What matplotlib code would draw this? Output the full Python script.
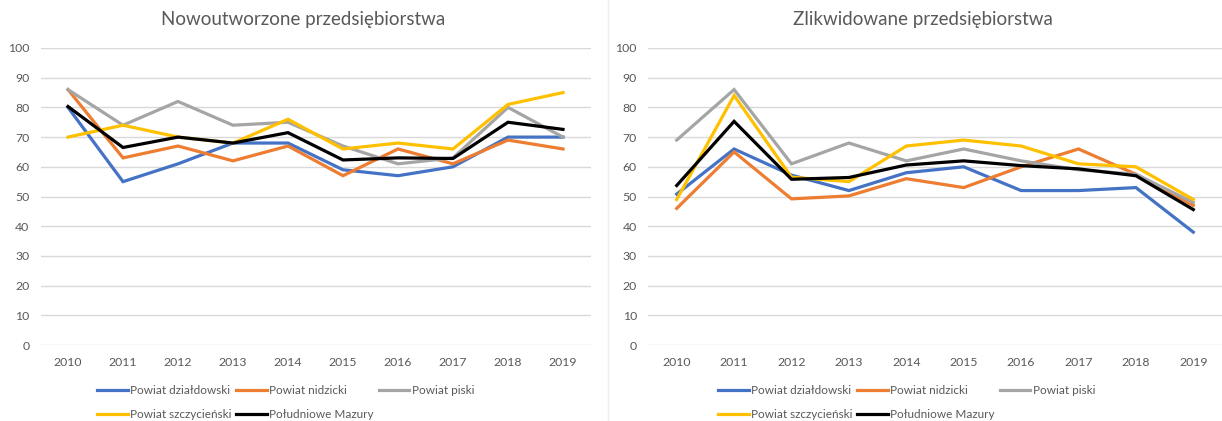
"""
Two Excel-style line charts: new and closed enterprises, 2010-2019.
"""

import matplotlib
matplotlib.use("Agg")
import matplotlib.pyplot as plt
from matplotlib.lines import Line2D

plt.rcParams['font.family'] = ['Lato', 'DejaVu Sans']

years = ['2010', '2011', '2012', '2013', '2014', '2015', '2016', '2017', '2018', '2019']
series_names = ['Powiat działdowski', 'Powiat nidzicki', 'Powiat piski',
                'Powiat szczycieński', 'Południowe Mazury']
colors = ['#4472C4', '#ED7D31', '#A5A5A5', '#FFC000', '#000000']

# Nowoutworzone przedsiębiorstwa
new_dzialdowski = [80, 55, 61, 68, 68, 59, 57, 60, 70, 70]
new_nidzicki = [86, 63, 67, 62, 67, 57, 66, 61, 69, 66]
new_piski = [86, 74, 82, 74, 75, 67, 61, 63, 80, 70]
new_szczycienski = [70, 74, 70, 68, 76, 66, 68, 66, 81, 85]
new_mazury = [80.3, 66.5, 70, 68, 71.5, 62.3, 63, 62.8, 75, 72.6]

# Zlikwidowane przedsiębiorstwa
closed_dzialdowski = [50.8, 66, 57.2, 52, 58, 60, 52, 52, 53, 38]
closed_nidzicki = [46, 65, 49.2, 50.2, 56, 53, 60, 66, 57.5, 47]
closed_piski = [69, 86, 61, 68, 62, 66, 62, 59, 57.5, 48]
closed_szczycienski = [49, 84, 56.5, 55, 67, 69, 67, 61, 60, 49]
closed_mazury = [53.7, 75.3, 55.8, 56.4, 60.6, 62, 60.4, 59.3, 57, 45.6]

new_data = [new_dzialdowski, new_nidzicki, new_piski, new_szczycienski, new_mazury]
closed_data = [closed_dzialdowski, closed_nidzicki, closed_piski, closed_szczycienski, closed_mazury]

W, H = 1222, 421
fig = plt.figure(figsize=(W / 100, H / 100), dpi=100)

ax1 = fig.add_axes([40.5 / W, 76 / H, 550 / W, 297 / H])
ax2 = fig.add_axes([648 / W, 76 / H, 574 / W, 297 / H])

text_color = '#595959'


def style_panel(ax, data, title, title_x, legend_x):
    x = list(range(len(years)))
    handles = []
    for values, name, color in zip(data, series_names, colors):
        line, = ax.plot(x, values, color=color, linewidth=2.3, label=name,
                        solid_joinstyle='miter', zorder=3)
        handles.append(line)

    ax.set_xlim(-0.5, len(years) - 0.5)
    ax.set_ylim(0, 100)
    ax.set_yticks(range(0, 101, 10))
    ax.set_xticks(x)
    ax.set_xticklabels(years)
    ax.tick_params(length=0, labelsize=8.8, labelcolor=text_color, pad=8)
    ax.tick_params(axis='x', pad=9)
    ax.grid(axis='y', color='#D9D9D9', linewidth=1.0, zorder=0)
    for spine in ax.spines.values():
        spine.set_visible(False)

    fig.text(title_x / W, 1 - 19 / H, title, ha='center', va='center',
             fontsize=13.5, color=text_color)

    # legend fills columns first, so reorder to get Excel row order
    order = [0, 3, 1, 4, 2]
    leg = ax.legend([handles[i] for i in order], [series_names[i] for i in order],
                    ncol=3, loc='upper left', bbox_to_anchor=(legend_x / W, 1 - 385 / H),
                    bbox_transform=fig.transFigure, frameon=False, fontsize=8.5,
                    handlelength=2.6, handletextpad=0.2, columnspacing=0.4,
                    labelspacing=1.1, borderpad=0, borderaxespad=0)
    for t in leg.get_texts():
        t.set_color(text_color)


style_panel(ax1, new_data, 'Nowoutworzone przedsiębiorstwa', 303, 97)
style_panel(ax2, closed_data, 'Zlikwidowane przedsiębiorstwa', 923, 718)

# faint border between the two charts
fig.add_artist(Line2D([608 / W, 608 / W], [0, 1], transform=fig.transFigure,
                      color='#EEEEEE', linewidth=1))

plt.savefig('out.png', dpi=100)
